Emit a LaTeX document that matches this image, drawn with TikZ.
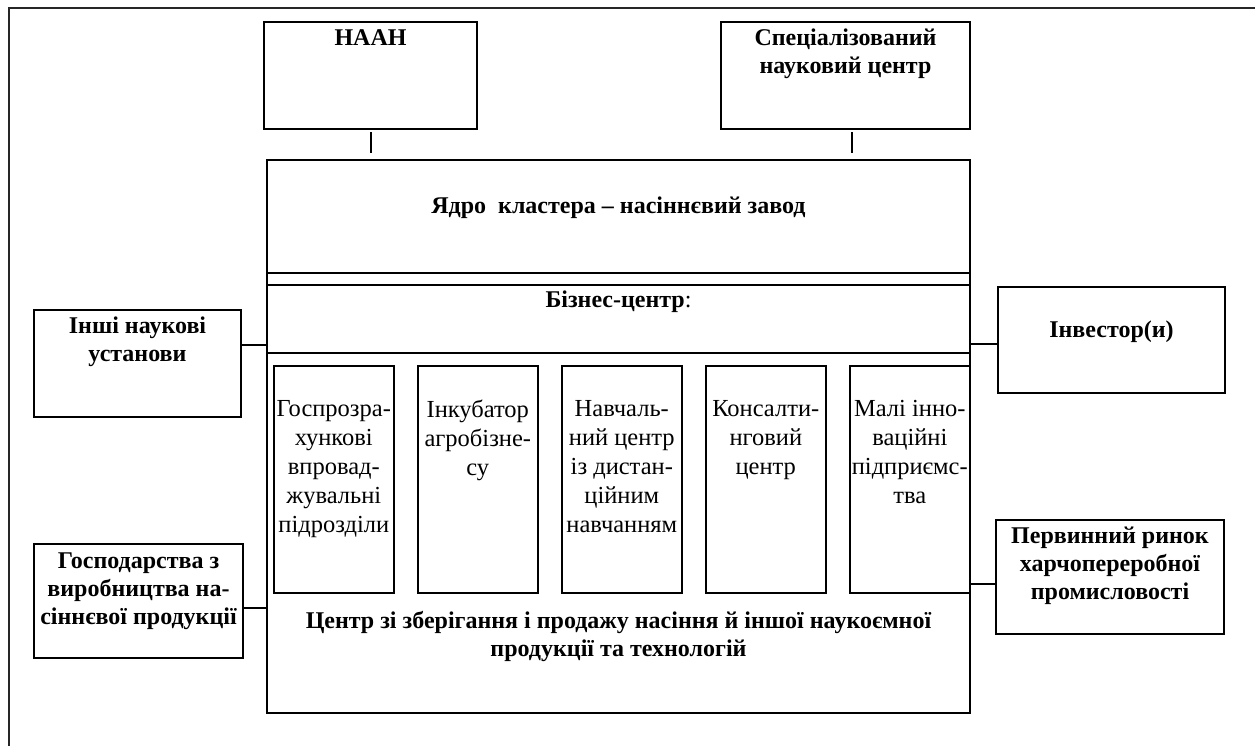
\documentclass[tikz,border=0pt]{standalone}
\usepackage{fontspec}
\setmainfont{Liberation Serif}
\usetikzlibrary{positioning}
\begin{document}
\begin{tikzpicture}[x=1pt,y=-1pt]
		\newcommand{\unitw}{120pt} % width of the inner boxes
		\newcommand{\unith}{227pt} % height of the inner boxes
		\newcommand{\lw}{2pt} % line width

		% set the styles of the boxes and texts
		\tikzset{
			box/.style={
				draw,
				line width=\lw,
				anchor=north west,
				inner sep=0pt
				},
			unitbox/.style={
				box,
				line width=1.6pt,
				minimum width=\unitw,
				minimum height=\unith
				},
			title/.style={
				font=\bfseries\fontsize{24}{28}\selectfont,
				align=center,
				inner sep=0pt
				},
			unittext/.style={
				font=\fontsize{24.5}{29}\selectfont,
				align=center,
				inner sep=0pt
				},
			link/.style={
				line width=\lw
				}
		}
		\useasboundingbox (0,0) rectangle (1255,745);

		% outer frame
		\draw[line width=\lw, black!85] (1265,8) -- (9,8) -- (9,755);

		% top boxes
		\node[box, minimum width=213pt, minimum height=107pt] (naan) at (263,21) {};
		\node[box, minimum width=249pt, minimum height=107pt] (spec) at (720,21) {};
		\node[title, anchor=north, below=8pt of naan.north] (naantxt) {НААН};
		\node[title, anchor=north, below=8pt of spec.north] (spectxt) {Спеціалізований\\науковий центр};

		% cluster
		\node[box, minimum width=703pt, minimum height=553pt] (main) at (266,159) {};
		\node[box, minimum width=703pt, minimum height=113pt] (core) at (266,159) {};
		\node[box, minimum width=703pt, minimum height=68pt] (biz) at (266,284) {};
		\node[title, anchor=base] (coretxt) at ([yshift=-54pt]core.north) {Ядро\ \ кластера – насіннєвий завод};
		\node[title, anchor=base] (biztxt) at ([yshift=-23.5pt]biz.north) {Бізнес-центр\mdseries:};
		\node[title, anchor=north] (storetxt) at ([yshift=-452.5pt]main.north) {Центр зі зберігання і продажу насіння й іншої наукоємної\\продукції та технологій};

		% inner units
		\node[unitbox] (unit1) at (273,365) {};
		\node[unitbox] (unit2) at (417,365) {};
		\node[unitbox] (unit3) at (561,365) {};
		\node[unitbox] (unit4) at (705,365) {};
		\node[unitbox] (unit5) at (849,365) {};
		\node[unittext, anchor=north, below=35pt of unit1.north] (unit1txt) {Госпрозра-\\хункові\\впровад-\\жувальні\\підрозділи};
		\node[unittext, anchor=north, below=35pt of unit2.north] (unit2txt) {Інкубатор\\агробізне-\\су};
		\node[unittext, anchor=north, below=35pt of unit3.north] (unit3txt) {Навчаль-\\ний центр\\із дистан-\\ційним\\навчанням};
		\node[unittext, anchor=north, below=35pt of unit4.north] (unit4txt) {Консалти-\\нговий\\центр};
		\node[unittext, anchor=north, below=35pt of unit5.north] (unit5txt) {Малі інно-\\ваційні\\підприємс-\\тва};

		% side boxes
		\node[box, minimum width=207pt, minimum height=107pt] (others) at (33,309) {};
		\node[box, minimum width=209pt, minimum height=114pt] (farms) at (33,543) {};
		\node[box, minimum width=227pt, minimum height=106pt] (invest) at (997,286) {};
		\node[box, minimum width=228pt, minimum height=114pt] (market) at (995,519) {};
		\node[title, anchor=north, below=7.5pt of others.north] (otherstxt) {Інші наукові\\установи};
		\node[title, anchor=north, below=10pt of farms.north] (farmstxt) {Господарства з\\виробництва на-\\сіннєвої продукції};
		\node[title, anchor=base] (investtxt) at ([yshift=-51pt]invest.north) {Інвестор(и)};
		\node[title, anchor=north, below=8pt of market.north] (markettxt) {Первинний ринок\\харчопереробної\\промисловості};

		% links
		\coordinate (othersc) at ([yshift=-36pt]others.north east);
		\coordinate (farmsc) at ([yshift=-65pt]farms.north east);
		\coordinate (investc) at ([yshift=-58pt]invest.north west);
		\coordinate (marketc) at ([yshift=-65pt]market.north west);
		\draw[link] ([yshift=-2pt]naan.south) -- ([yshift=6pt]naan.south |- main.north);
		\draw[link] ([shift={(6pt,-2pt)}]spec.south) -- ([shift={(6pt,6pt)}]spec.south |- main.north);
		\draw[link] (othersc) -- (othersc -| main.west);
		\draw[link] (farmsc) -- (farmsc -| main.west);
		\draw[link] (investc) -- (investc -| main.east);
		\draw[link] (marketc) -- (marketc -| main.east);
\end{tikzpicture}
\end{document}
